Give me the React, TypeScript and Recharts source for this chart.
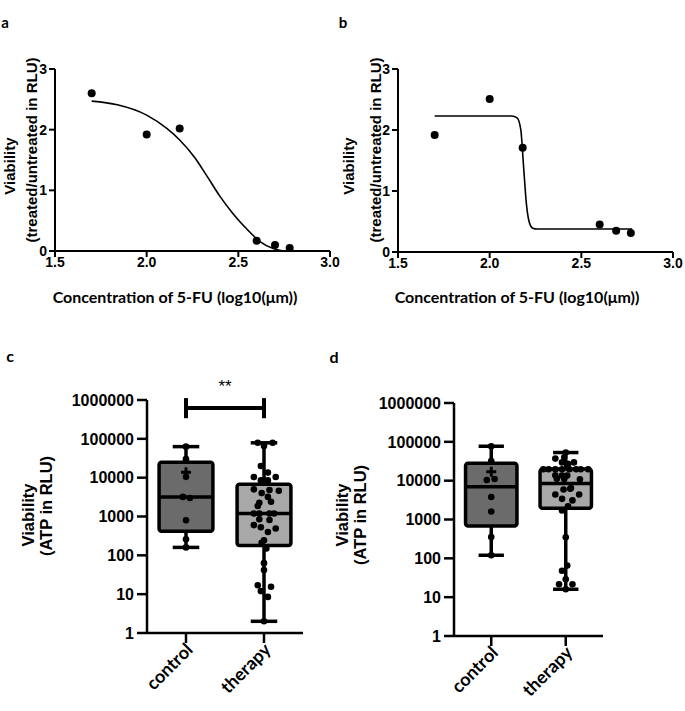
import React from 'react'
import { ComposedChart, Line, Scatter, XAxis, YAxis, ReferenceArea, ReferenceLine } from 'recharts'

// ---- panels a / b : dose response ----
const doseTicks = [1.5, 2.0, 2.5, 3.0]
const ratioTicks = [0, 1, 2, 3]

const doseA = [1.7, 2.0, 2.18, 2.6, 2.7, 2.78]
const ratioA = [2.6, 1.92, 2.02, 0.17, 0.1, 0.05]
const fitDoseA = [1.7, 1.84, 2.0, 2.11, 2.18, 2.26, 2.33, 2.4, 2.47, 2.55, 2.62, 2.69, 2.745]
const fitRatioA = [2.47, 2.41, 2.24, 2.02, 1.83, 1.55, 1.23, 0.9, 0.62, 0.35, 0.15, 0.04, 0]

const doseB = [1.7, 2.0, 2.18, 2.6, 2.69, 2.77]
const ratioB = [1.92, 2.51, 1.71, 0.45, 0.35, 0.31]
const fitDoseB = [1.7, 2.12, 2.15, 2.17, 2.185, 2.2, 2.215, 2.235, 2.26, 2.777]
const fitRatioB = [2.23, 2.23, 2.2, 2.0, 1.4, 0.8, 0.5, 0.39, 0.376, 0.376]

// ---- panels c / d : ATP viability (index 0 = control, 1 = therapy) ----
const groups = ['control', 'therapy']
const groupFill = ['#6b6b6b', '#a8a8a8']
const atpTicks = [1, 10, 100, 1000, 10000, 100000, 1000000]

const minC = [160, 2]
const q1C = [420, 180]
const medC = [3200, 1200]
const q3C = [25000, 6800]
const maxC = [63000, 79000]
const meanC = [13700, null]

const controlC = [63000, 30000, 10500, 3200, 3000, 800, 260, 160]
const controlJitterC = [0, 0, 0, -0.04, 0.05, 0, 0, 0]
const therapyC = [
  79000, 79000, 65000, 20000, 13500, 10400, 10400, 8500, 8500, 8500, 5000, 4800, 4600,
  4000, 3200, 2250, 2400, 1860, 1200, 1200, 1200, 1200, 850, 810, 600, 530, 400, 490,
  245, 210, 150, 63, 42, 17, 15.5, 12, 8.5, 2,
]
const therapyJitterC = [
  -0.08, 0.11, 0, -0.04, 0.05, -0.13, 0.15, -0.04, 0, 0.05, -0.13, 0.07, 0.19,
  -0.03, 0.05, -0.06, 0.09, -0.08, -0.13, -0.06, 0.07, 0.13, -0.06, 0.07, -0.13, -0.04, 0.05, 0.15,
  0, -0.03, 0.03, 0, 0, -0.08, 0.09, -0.04, 0.05, 0,
]

const minD = [120, 16]
const q1D = [680, 1950]
const medD = [7000, 8500]
const q3D = [28000, 20000]
const maxD = [77000, 53000]
const meanD = [17000, null]

const controlD = [77000, 32000, 11000, 10400, 3800, 1600, 355, 120]
const controlJitterD = [0, 0, 0.045, -0.06, 0, 0, 0, 0]
const therapyD = [
  53000, 37000, 40000, 29500, 29500, 27000, 19600, 19600, 19600, 19600, 19600, 19600,
  19600, 19600, 13700, 13500, 13500, 11200, 11000, 10900, 6500, 5900, 6200, 4400, 4400,
  3400, 3100, 2200, 1700, 350, 65, 48, 29, 21.5, 21.5, 16,
]
const therapyJitterD = [
  0, -0.14, -0.02, -0.05, 0.11, 0.03, -0.3, -0.23, -0.14, -0.05, 0.05, 0.14,
  0.2, 0.3, -0.14, -0.05, 0.02, -0.12, -0.02, 0.19, 0.07, -0.03, 0.06, -0.14, 0.18,
  -0.05, 0.09, 0.03, -0.05, 0, 0.02, -0.05, 0, -0.09, 0.09, 0,
]

const ARIAL = '"Liberation Sans", Arial, sans-serif'
const CALIBRI = 'Lato, "Open Sans", sans-serif'

function Txt({ x, y, children, size = 15, font = ARIAL, rotate = 0, weight = 700 }: any) {
  return (
    <div
      style={{
        position: 'absolute', left: x, top: y, whiteSpace: 'nowrap',
        transform: `translate(-50%, -50%) rotate(${rotate}deg)`,
        fontFamily: font, fontSize: size, fontWeight: weight, color: '#000', lineHeight: 1,
      }}
    >
      {children}
    </div>
  )
}

const dot = (r: number) => (p: any) => <circle cx={p.cx} cy={p.cy} r={r} fill="#000" />

function DosePanel({ left, width, marginLeft, marginRight, marginBottom, dose, ratio, fitDose, fitRatio }: any) {
  const points = dose.map((x: number, i: number) => ({ x, y: ratio[i] }))
  const fit = fitDose.map((x: number, i: number) => ({ x, y: fitRatio[i] }))
  const tick = { fill: '#000', fontSize: 14, fontWeight: 700, fontFamily: ARIAL }
  return (
    <div style={{ position: 'absolute', left, top: 0 }}>
      <ComposedChart width={width} height={310} margin={{ top: 69, right: marginRight, bottom: marginBottom, left: marginLeft }}>
        <XAxis
          dataKey="x" type="number" domain={[1.5, 3]} ticks={doseTicks}
          tickFormatter={(v: number) => v.toFixed(1)} height={35}
          axisLine={{ stroke: '#000', strokeWidth: 2 }} tickLine={{ stroke: '#000', strokeWidth: 2 }}
          tickSize={6} tickMargin={0} tick={tick} interval={0}
        />
        <YAxis
          type="number" domain={[0, 3]} ticks={ratioTicks} width={45}
          axisLine={{ stroke: '#000', strokeWidth: 2 }} tickLine={{ stroke: '#000', strokeWidth: 2 }}
          tickSize={6} tickMargin={2} tick={tick} interval={0}
        />
        <Line data={fit} dataKey="y" type="monotone" stroke="#000" strokeWidth={1.6} dot={false} isAnimationActive={false} />
        <Scatter data={points} dataKey="y" shape={dot(4)} isAnimationActive={false} />
      </ComposedChart>
    </div>
  )
}

const plus = (p: any) => (
  <path d={`M${p.cx - 5},${p.cy}H${p.cx + 5}M${p.cx},${p.cy - 5}V${p.cy + 5}`} stroke="#000" strokeWidth={3} />
)

function CategoryTick({ x, y, payload }: any) {
  return (
    <text
      x={x} y={y} dy="0.62em" textAnchor="end" transform={`rotate(-45, ${x}, ${y})`}
      fill="#000" fontSize={18} fontWeight={700} fontFamily={CALIBRI}
    >
      {groups[payload.value - 1]}
    </text>
  )
}

function BoxPanel({ left, top, width, marginLeft, mins, q1s, meds, q3s, maxs, means, values, jitters, bracket }: any) {
  const pts: any[] = []
  values.forEach((vals: number[], g: number) =>
    vals.forEach((v, i) => pts.push({ x: g + 1 + jitters[g][i], y: v })))
  const meanPts = means
    .map((m: number | null, g: number) => (m == null ? null : { x: g + 1, y: m }))
    .filter(Boolean)
  const line = { stroke: '#000', strokeWidth: 3.5 }
  const tick = { fill: '#000', fontSize: 16, fontWeight: 700, fontFamily: ARIAL }
  const hw = 0.345
  const cw = 0.17
  return (
    <div style={{ position: 'absolute', left, top }}>
      <ComposedChart width={width} height={380} margin={{ top: 70, right: 17, bottom: 7, left: marginLeft }}>
        <XAxis
          dataKey="x" type="number" domain={[0.5, 2.5]} ticks={[1, 2]} height={70}
          axisLine={{ stroke: '#000', strokeWidth: 2.5 }} tickLine={{ stroke: '#000', strokeWidth: 2.5 }}
          tickSize={10} tickMargin={0} tick={<CategoryTick />} interval={0}
        />
        <YAxis
          type="number" scale="log" domain={[1, 1000000]} ticks={atpTicks} width={70} allowDataOverflow
          axisLine={{ stroke: '#000', strokeWidth: 2.5 }} tickLine={{ stroke: '#000', strokeWidth: 2.5 }}
          tickSize={10} tickMargin={3} tick={tick} interval={0}
        />
        {groups.map((g, i) => (
          <ReferenceArea
            key={`box-${g}`} x1={i + 1 - hw} x2={i + 1 + hw} y1={q1s[i]} y2={q3s[i]}
            shape={(p: any) => (
              <rect x={p.x} y={p.y} width={p.width} height={p.height} rx={2.5}
                fill={groupFill[i]} stroke="#000" strokeWidth={3.5} />
            )}
          />
        ))}
        {groups.map((g, i) => (
          <ReferenceLine key={`wu-${g}`} segment={[{ x: i + 1, y: q3s[i] }, { x: i + 1, y: maxs[i] }]} {...line} />
        ))}
        {groups.map((g, i) => (
          <ReferenceLine key={`wl-${g}`} segment={[{ x: i + 1, y: mins[i] }, { x: i + 1, y: q1s[i] }]} {...line} />
        ))}
        {groups.map((g, i) => (
          <ReferenceLine key={`cu-${g}`} segment={[{ x: i + 1 - cw, y: maxs[i] }, { x: i + 1 + cw, y: maxs[i] }]} {...line} />
        ))}
        {groups.map((g, i) => (
          <ReferenceLine key={`cl-${g}`} segment={[{ x: i + 1 - cw, y: mins[i] }, { x: i + 1 + cw, y: mins[i] }]} {...line} />
        ))}
        {groups.map((g, i) => (
          <ReferenceLine key={`md-${g}`} segment={[{ x: i + 1 - hw, y: meds[i] }, { x: i + 1 + hw, y: meds[i] }]} {...line} />
        ))}
        {bracket && (
          <ReferenceLine segment={[{ x: 1, y: 620000 }, { x: 2, y: 620000 }]} ifOverflow="visible" stroke="#000" strokeWidth={4}
            label={{ value: '**', position: 'top', offset: 16, fill: '#000', fontSize: 17, fontFamily: ARIAL }} />
        )}
        {bracket && (
          <ReferenceLine segment={[{ x: 1, y: 1120000 }, { x: 1, y: 340000 }]} ifOverflow="visible" stroke="#000" strokeWidth={4} />
        )}
        {bracket && (
          <ReferenceLine segment={[{ x: 2, y: 1120000 }, { x: 2, y: 340000 }]} ifOverflow="visible" stroke="#000" strokeWidth={4} />
        )}
        <Scatter data={pts} dataKey="y" shape={dot(3.3)} isAnimationActive={false} />
        <Scatter data={meanPts} dataKey="y" shape={plus} isAnimationActive={false} />
      </ComposedChart>
    </div>
  )
}

export default function App() {
  return (
    <div style={{ position: 'absolute', left: 0, top: 0, width: 685, height: 711, background: '#fff', overflow: 'hidden' }}>
      <DosePanel left={0} width={340} marginLeft={10} marginRight={10} marginBottom={24}
        dose={doseA} ratio={ratioA} fitDose={fitDoseA} fitRatio={fitRatioA} />
      <DosePanel left={340} width={345} marginLeft={13} marginRight={12} marginBottom={23}
        dose={doseB} ratio={ratioB} fitDose={fitDoseB} fitRatio={fitRatioB} />
      <BoxPanel left={0} top={330} width={320} marginLeft={77}
        mins={minC} q1s={q1C} meds={medC} q3s={q3C} maxs={maxC} means={meanC}
        values={[controlC, therapyC]} jitters={[controlJitterC, therapyJitterC]} bracket />
      <BoxPanel left={330} top={333} width={290} marginLeft={54}
        mins={minD} q1s={q1D} meds={medD} q3s={q3D} maxs={maxD} means={meanD}
        values={[controlD, therapyD]} jitters={[controlJitterD, therapyJitterD]} />

      <Txt x={5} y={22} font={CALIBRI} size={15}>a</Txt>
      <Txt x={343} y={22} font={CALIBRI} size={15}>b</Txt>
      <Txt x={10} y={356} font={CALIBRI} size={16}>c</Txt>
      <Txt x={334} y={357} font={CALIBRI} size={16}>d</Txt>

      <Txt x={9} y={166} rotate={-90}>Viability</Txt>
      <Txt x={31} y={150} rotate={-90}>(treated/untreated in RLU)</Txt>
      <Txt x={348} y={166} rotate={-90}>Viability</Txt>
      <Txt x={375} y={150} rotate={-90}>(treated/untreated in RLU)</Txt>
      <Txt x={175} y={297} font={CALIBRI} size={16}>Concentration of 5-FU (log10(μm))</Txt>
      <Txt x={517} y={297} font={CALIBRI} size={16}>Concentration of 5-FU (log10(μm))</Txt>

      <Txt x={28} y={515} rotate={-90} size={16.5}>Viability</Txt>
      <Txt x={46} y={506} rotate={-90} size={16.5}>(ATP in RLU)</Txt>
      <Txt x={342} y={515} rotate={-90} size={16.5}>Viability</Txt>
      <Txt x={360} y={515} rotate={-90} size={16.5}>(ATP in RLU)</Txt>
    </div>
  )
}
